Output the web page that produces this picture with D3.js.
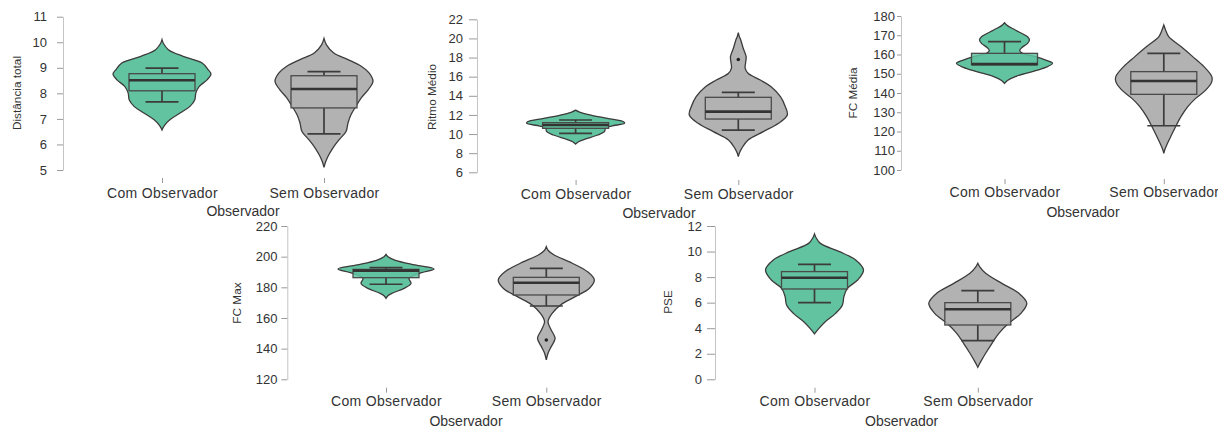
<!DOCTYPE html>
<html>
<head>
<meta charset="utf-8">
<script src="https://cdn.jsdelivr.net/npm/d3@7"></script>
<style>
  html, body { margin: 0; padding: 0; background: #fff; }
  svg { display: block; font-family: "Liberation Sans", Arial, Helvetica, sans-serif; }
</style>
</head>
<body>
<svg id="chart" width="1218" height="427"></svg>
<script>
// Groups shown on every x axis
const categories = ["Com Observador", "Sem Observador"];
const xTitle = "Observador";

// Y axis titles and tick values
const distLabel = "Distância total";
const distTicks = [5, 6, 7, 8, 9, 10, 11];
const ritmoLabel = "Ritmo Médio";
const ritmoTicks = [6, 8, 10, 12, 14, 16, 18, 20, 22];
const fcMediaLabel = "FC Média";
const fcMediaTicks = [100, 110, 120, 130, 140, 150, 160, 170, 180];
const fcMaxLabel = "FC Max";
const fcMaxTicks = [120, 140, 160, 180, 200, 220];
const pseLabel = "PSE";
const pseTicks = [0, 2, 4, 6, 8, 10, 12];

// Box summaries per group: [lower whisker, Q1, median, Q3, upper whisker]
const distBox = [[7.67, 8.10, 8.51, 8.77, 8.99], [6.41, 7.43, 8.17, 8.69, 8.85]];
const ritmoBox = [[10.08, 10.60, 10.95, 11.19, 11.47], [10.42, 11.57, 12.34, 13.84, 14.36]];
const fcMediaBox = [[154.7, 154.7, 155.0, 160.6, 166.7], [123.0, 139.3, 146.2, 151.1, 160.6]];
const fcMaxBox = [[182.0, 186.3, 190.9, 191.7, 192.8], [167.8, 175.0, 183.0, 186.5, 192.4]];
const pseBox = [[6.0, 7.07, 7.95, 8.43, 9.0], [3.02, 4.25, 5.48, 6.0, 6.94]];

// Outlying observations per group
const ritmoOutliers = [[], [17.8]];
const fcMaxOutliers = [[], [145.6]];

// Violin density profiles: [value, relative density]
const distViolinCom = [[10.1, 0], [9.95, 0.03], [9.71, 0.13], [9.45, 0.43], [9.19, 0.82], [8.93, 0.94], [8.76, 1], [8.53, 0.92], [8.27, 0.76], [8.01, 0.69], [7.75, 0.67], [7.49, 0.57], [7.23, 0.37], [6.97, 0.16], [6.77, 0.06], [6.65, 0.02], [6.57, 0]];
const distViolinSem = [[10.15, 0], [9.9, 0.05], [9.58, 0.2], [9.32, 0.49], [9.06, 0.76], [8.8, 0.92], [8.47, 1], [8.14, 0.9], [7.82, 0.76], [7.49, 0.65], [7.16, 0.55], [6.84, 0.49], [6.51, 0.45], [6.19, 0.31], [5.86, 0.18], [5.53, 0.08], [5.3, 0.03], [5.1, 0]];
const ritmoViolinCom = [[12.5, 0], [12.3, 0.08], [11.99, 0.31], [11.64, 0.65], [11.29, 0.98], [11.12, 1], [10.84, 0.73], [10.6, 0.61], [10.25, 0.59], [9.9, 0.45], [9.45, 0.18], [9.2, 0.06], [8.96, 0]];
const ritmoViolinSem = [[20.6, 0], [20.2, 0.02], [19.84, 0.05], [18.97, 0.1], [18.09, 0.16], [17.5, 0.15], [16.9, 0.14], [16.35, 0.2], [15.65, 0.45], [14.95, 0.67], [13.91, 0.86], [12.86, 0.96], [11.99, 1], [11.12, 0.82], [10.25, 0.51], [9.38, 0.2], [8.51, 0.07], [8.0, 0.02], [7.63, 0]];
const fcMediaViolinCom = [[176.5, 0], [175, 0.06], [172.7, 0.22], [169.2, 0.47], [167.5, 0.51], [165.8, 0.47], [163.5, 0.35], [162, 0.31], [160.6, 0.37], [158.9, 0.63], [157.1, 0.84], [155.4, 0.98], [153.3, 0.84], [151.1, 0.57], [148.5, 0.22], [146.5, 0.06], [145, 0]];
const fcMediaViolinSem = [[175.3, 0], [172.5, 0.04], [169.3, 0.1], [164.1, 0.35], [158.9, 0.59], [153.7, 0.82], [148.5, 0.98], [145.9, 0.98], [141.6, 0.86], [137.2, 0.65], [132.9, 0.49], [127.7, 0.35], [122.5, 0.24], [117.3, 0.14], [113, 0.06], [110.5, 0.02], [108.7, 0]];
const fcMaxViolinCom = [[201.5, 0], [200, 0.04], [197.8, 0.18], [194.6, 0.59], [192, 0.98], [189.1, 0.67], [185.9, 0.47], [182.6, 0.51], [179.3, 0.37], [176.1, 0.12], [174.5, 0.04], [172.8, 0]];
const fcMaxViolinSem = [[206.5, 0], [204, 0.04], [201.1, 0.16], [195.7, 0.53], [190.2, 0.84], [184.8, 0.98], [179.4, 0.88], [173.9, 0.59], [168.5, 0.29], [163, 0.12], [157.6, 0.035], [152.2, 0.1], [146.7, 0.18], [141.3, 0.1], [137, 0.035], [132.6, 0]];
const pseViolinCom = [[11.37, 0], [11.1, 0.03], [10.64, 0.12], [9.99, 0.51], [9.34, 0.84], [8.56, 1], [7.77, 0.88], [7.12, 0.67], [6.47, 0.6], [5.82, 0.57], [5.16, 0.43], [4.51, 0.22], [3.99, 0.09], [3.55, 0]];
const pseViolinSem = [[9.08, 0], [8.8, 0.04], [8.3, 0.16], [7.51, 0.49], [6.73, 0.84], [5.95, 1], [5.16, 0.88], [4.38, 0.63], [3.6, 0.43], [2.82, 0.29], [2.04, 0.16], [1.38, 0.06], [1.1, 0.02], [0.94, 0]];

// Colours
const groupFill = ["#62c3a1", "#b2b2b2"];
const outlineColor = "#3c3c3c";
const textColor = "#333333";
const axisColor = "#c4c4c4";
const tickColor = "#9a9a9a";

// Panel placement (pixels) with the data each one uses
const panels = [
  { label: distLabel, ticks: distTicks, box: distBox, violins: [distViolinCom, distViolinSem], outliers: [[], []],
    axisX: 63, top: 16.7, bottom: 170, cats: [162, 324], tickLen: 6, tickEnd: 47,
    catTickY: 178, catLabelY: 198, titleX: 243, titleY: 216, yLabelX: 17, yLabelY: 93 },
  { label: ritmoLabel, ticks: ritmoTicks, box: ritmoBox, violins: [ritmoViolinCom, ritmoViolinSem], outliers: ritmoOutliers,
    axisX: 477, top: 19.3, bottom: 172.3, cats: [575.6, 738.3], tickLen: 8, tickEnd: 463,
    catTickY: 180, catLabelY: 199, titleX: 659, titleY: 218, yLabelX: 432, yLabelY: 97 },
  { label: fcMediaLabel, ticks: fcMediaTicks, box: fcMediaBox, violins: [fcMediaViolinCom, fcMediaViolinSem], outliers: [[], []],
    axisX: 901, top: 16, bottom: 170, cats: [1004.5, 1163.8], tickLen: 4, tickEnd: 895,
    catTickY: 179, catLabelY: 197, titleX: 1083, titleY: 216.5, yLabelX: 853, yLabelY: 93 },
  { label: fcMaxLabel, ticks: fcMaxTicks, box: fcMaxBox, violins: [fcMaxViolinCom, fcMaxViolinSem], outliers: fcMaxOutliers,
    axisX: 287.3, top: 226, bottom: 379.3, cats: [386, 546.3], tickLen: 6, tickEnd: 277.5,
    catTickY: 387.7, catLabelY: 406, titleX: 466, titleY: 425.5, yLabelX: 236.7, yLabelY: 303 },
  { label: pseLabel, ticks: pseTicks, box: pseBox, violins: [pseViolinCom, pseViolinSem], outliers: [[], []],
    axisX: 715, top: 226, bottom: 379.3, cats: [814.5, 977.8], tickLen: 8, tickEnd: 702,
    catTickY: 387.7, catLabelY: 406.5, titleX: 901.7, titleY: 425.5, yLabelX: 668.3, yLabelY: 302 }
];

const svg = d3.select("#chart");
const violinHalf = d3.scaleLinear().domain([0, 1]).range([0, 49]);
const boxHalf = 33;
const capHalf = 16.5;

panels.forEach(p => {
  const g = svg.append("g");
  const y = d3.scaleLinear().domain(d3.extent(p.ticks)).range([p.bottom, p.top]);
  const x = d3.scalePoint().domain(categories).range(p.cats);

  // Y axis
  const yAxis = d3.axisLeft(y).tickValues(p.ticks).tickFormat(d3.format("d"))
    .tickSize(p.tickLen).tickSizeOuter(0).tickPadding(p.axisX - p.tickLen - p.tickEnd);
  const ya = g.append("g").attr("transform", `translate(${p.axisX},0)`).call(yAxis)
    .attr("font-family", null).attr("font-size", null);
  ya.select(".domain").attr("stroke", axisColor).attr("stroke-width", 1);
  ya.selectAll(".tick line").attr("stroke", tickColor).attr("stroke-width", 1);
  ya.selectAll(".tick text").attr("fill", textColor).style("font-size", "13px");

  // X axis: small tick marks and group names
  const xAxis = d3.axisBottom(x).tickSize(5).tickSizeOuter(0);
  const xa = g.append("g").attr("transform", `translate(0,${p.catTickY})`).call(xAxis)
    .attr("font-family", null).attr("font-size", null);
  xa.select(".domain").remove();
  xa.selectAll(".tick line").attr("stroke", tickColor).attr("stroke-width", 1);
  xa.selectAll(".tick text")
    .attr("fill", textColor).attr("dy", null).attr("y", p.catLabelY - p.catTickY)
    .style("font-size", "14px").style("letter-spacing", "0.3px");

  // Axis titles
  g.append("text").attr("x", p.titleX).attr("y", p.titleY).attr("text-anchor", "middle")
    .attr("fill", textColor).style("font-size", "14px").text(xTitle);
  g.append("text").attr("transform", `translate(${p.yLabelX},${p.yLabelY}) rotate(-90)`)
    .attr("text-anchor", "middle").attr("dy", "0.35em")
    .attr("fill", textColor).style("font-size", "11.8px").text(p.label);

  categories.forEach((cat, i) => {
    const cx = x(cat);
    const fill = groupFill[i];

    // Violin outline
    const area = d3.area()
      .curve(d3.curveCatmullRom.alpha(0.5))
      .y(d => y(d[0]))
      .x0(d => cx - violinHalf(d[1]))
      .x1(d => cx + violinHalf(d[1]));
    g.append("path").datum(p.violins[i]).attr("d", area)
      .attr("fill", fill).attr("stroke", outlineColor).attr("stroke-width", 1.3);

    // Box and whiskers
    const [lo, q1, med, q3, hi] = p.box[i];
    const bg = g.append("g").attr("stroke", outlineColor);
    bg.append("line").attr("x1", cx).attr("x2", cx).attr("y1", y(q3)).attr("y2", y(hi)).attr("stroke-width", 1.7);
    bg.append("line").attr("x1", cx).attr("x2", cx).attr("y1", y(q1)).attr("y2", y(lo)).attr("stroke-width", 1.7);
    bg.append("line").attr("x1", cx - capHalf).attr("x2", cx + capHalf).attr("y1", y(hi)).attr("y2", y(hi)).attr("stroke-width", 1.7);
    if (lo < q1) {
      bg.append("line").attr("x1", cx - capHalf).attr("x2", cx + capHalf).attr("y1", y(lo)).attr("y2", y(lo)).attr("stroke-width", 1.7);
    }
    bg.append("rect").attr("x", cx - boxHalf).attr("width", boxHalf * 2)
      .attr("y", y(q3)).attr("height", y(q1) - y(q3))
      .attr("fill", fill).attr("fill-opacity", 0.85).attr("stroke-width", 1.3).attr("stroke", "#4a4a4a");
    bg.append("line").attr("x1", cx - boxHalf).attr("x2", cx + boxHalf).attr("y1", y(med)).attr("y2", y(med)).attr("stroke-width", 2.6).attr("stroke", "#333");

    // Outliers
    g.selectAll(null).data(p.outliers[i]).enter().append("circle")
      .attr("cx", cx).attr("cy", d => y(d)).attr("r", 1.8).attr("fill", "#222");
  });
});
</script>
</body>
</html>
